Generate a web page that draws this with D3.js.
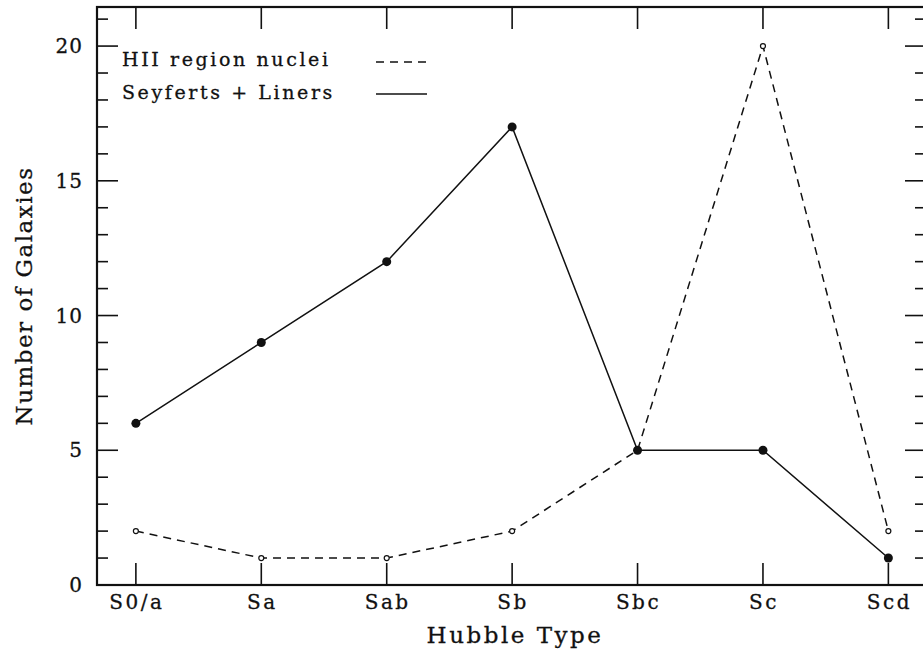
<!DOCTYPE html>
<html>
<head>
<meta charset="utf-8">
<script src="https://cdn.jsdelivr.net/npm/d3@7"></script>
<style>
  body { margin: 0; background: #fff; }
  text { font-family: "DejaVu Serif", "Liberation Serif", serif; fill: #111; stroke: #111; stroke-width: 0.3; }
</style>
</head>
<body>
<div id="chart"></div>
<script>
// hubble types along the x axis
var types = ["S0/a", "Sa", "Sab", "Sb", "Sbc", "Sc", "Scd"];
var hiiCounts = [2, 1, 1, 2, 5, 20, 2];
var seyfertCounts = [6, 9, 12, 17, 5, 5, 1];
var yMajorTicks = [0, 5, 10, 15, 20];
var yMinorTicks = d3.range(0, 22);

var width = 923, height = 652;
var plotLeft = 97, plotRight = 926, plotTop = 7, plotBottom = 585;

var svg = d3.select("#chart").append("svg")
    .attr("width", width)
    .attr("height", height);

var x = d3.scaleLinear().domain([-0.31, 6.3]).range([plotLeft, plotRight]);
var y = d3.scaleLinear().domain([0, 21.45]).range([plotBottom, plotTop]);

var frame = svg.append("g").attr("stroke", "#111").attr("fill", "none");

// box
frame.append("rect")
    .attr("x", plotLeft).attr("y", plotTop)
    .attr("width", plotRight - plotLeft).attr("height", plotBottom - plotTop)
    .attr("stroke-width", 2.2);

// y ticks on both sides
yMinorTicks.forEach(function (v) {
    var len = yMajorTicks.indexOf(v) >= 0 ? 21 : 11;
    if (v == 0) return;
    frame.append("line").attr("x1", plotLeft).attr("x2", plotLeft + len)
        .attr("y1", y(v)).attr("y2", y(v)).attr("stroke-width", 1.6);
    frame.append("line").attr("x1", plotRight).attr("x2", plotRight - len)
        .attr("y1", y(v)).attr("y2", y(v)).attr("stroke-width", 1.6);
});

// x ticks top and bottom
types.forEach(function (t, i) {
    frame.append("line").attr("x1", x(i)).attr("x2", x(i))
        .attr("y1", plotBottom).attr("y2", plotBottom - 22).attr("stroke-width", 1.6);
    frame.append("line").attr("x1", x(i)).attr("x2", x(i))
        .attr("y1", plotTop).attr("y2", plotTop + 22).attr("stroke-width", 1.6);
});

svg.append("g").selectAll("text")
    .data(yMajorTicks)
    .enter().append("text")
    .attr("x", plotLeft - 14)
    .attr("y", d => y(d) + 7)
    .attr("text-anchor", "end")
    .attr("font-size", 20)
    .attr("letter-spacing", 1)
    .text(d => d);

svg.append("g").selectAll("text")
    .data(types)
    .enter().append("text")
    .attr("x", (d, i) => x(i) + 1)
    .attr("y", plotBottom + 24)
    .attr("text-anchor", "middle")
    .attr("font-size", 20)
    .attr("letter-spacing", 2.5)
    .text(d => d);

svg.append("text")
    .attr("x", 515)
    .attr("y", 643)
    .attr("text-anchor", "middle")
    .attr("font-size", 23)
    .attr("letter-spacing", 2.5)
    .text("Hubble Type");

svg.append("text")
    .attr("transform", "translate(32,296) rotate(-90)")
    .attr("text-anchor", "middle")
    .attr("font-size", 23)
    .attr("letter-spacing", 1.5)
    .text("Number of Galaxies");

var line = d3.line()
    .x((d, i) => x(i))
    .y(d => y(d));

svg.append("path")
    .datum(hiiCounts)
    .attr("d", line)
    .attr("fill", "none")
    .attr("stroke", "#111")
    .attr("stroke-width", 1.5)
    .attr("stroke-dasharray", "8,6");

svg.append("path")
    .datum(seyfertCounts)
    .attr("d", line)
    .attr("fill", "none")
    .attr("stroke", "#111")
    .attr("stroke-width", 1.5);

svg.append("g").selectAll("circle")
    .data(hiiCounts)
    .enter().append("circle")
    .attr("cx", (d, i) => x(i))
    .attr("cy", d => y(d))
    .attr("r", 2.5)
    .attr("fill", "#fff")
    .attr("stroke", "#111")
    .attr("stroke-width", 1.2);

svg.append("g").selectAll("circle")
    .data(seyfertCounts)
    .enter().append("circle")
    .attr("cx", (d, i) => x(i))
    .attr("cy", d => y(d))
    .attr("r", 4.5)
    .attr("fill", "#111");

// legend
var legend = svg.append("g");
legend.append("text").attr("x", 122).attr("y", 66).attr("font-size", 19)
    .attr("letter-spacing", 2.6).text("HII region nuclei");
legend.append("text").attr("x", 122).attr("y", 99).attr("font-size", 19)
    .attr("letter-spacing", 2.6).text("Seyferts + Liners");
legend.append("line").attr("x1", 376).attr("x2", 427).attr("y1", 62).attr("y2", 62)
    .attr("stroke", "#111").attr("stroke-width", 1.5).attr("stroke-dasharray", "8,6");
legend.append("line").attr("x1", 376).attr("x2", 427).attr("y1", 94).attr("y2", 94)
    .attr("stroke", "#111").attr("stroke-width", 1.5);
</script>
</body>
</html>
